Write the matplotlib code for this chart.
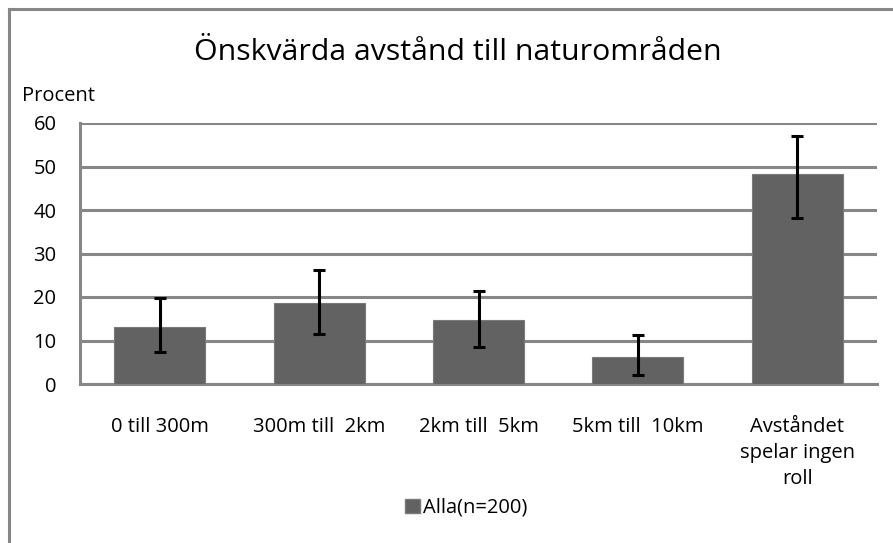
import matplotlib
matplotlib.use("Agg")
import matplotlib.pyplot as plt
from matplotlib.lines import Line2D
from matplotlib.patches import Patch
import numpy as np

categories = ["0 till 300m", "300m till  2km", "2km till  5km", "5km till  10km", "Avståndet\nspelar ingen\nroll"]
values = [13.0, 18.6, 14.7, 6.2, 48.2]
err_low = [7.3, 11.6, 8.5, 2.1, 38.2]
err_high = [19.8, 26.2, 21.4, 11.2, 57.1]
yticks = [0, 10, 20, 30, 40, 50, 60]
title = "Önskvärda avstånd till naturområden"
ylabel = "Procent"
series_name = "Alla(n=200)"

plt.rcParams['font.family'] = ['Open Sans', 'DejaVu Sans']

W, H = 893, 543
fs = 14.5
fig = plt.figure(figsize=(W / 100, H / 100), dpi=100)
ax = fig.add_axes([80 / W, 1 - 384 / H, (877 - 80) / W, (384 - 123) / H])

x = np.arange(len(categories))
vals = np.array(values)
yerr = np.array([vals - np.array(err_low), np.array(err_high) - vals])
ax.bar(x, vals, width=0.57, color="#626262", edgecolor="#7a7a7a", linewidth=0.8, zorder=3)
ax.errorbar(x, vals, yerr=yerr, fmt="none", ecolor="black", elinewidth=2.2,
            capsize=4.5, capthick=2.2, zorder=4)

ax.set_xlim(-0.5, len(categories) - 0.5)
ax.set_ylim(0, 60)
ax.set_yticks(yticks)
ax.set_yticklabels([str(t) for t in yticks], fontsize=fs)
ax.set_xticks(x)
ax.set_xticklabels(categories, fontsize=fs, linespacing=1.38, va="top")
ax.tick_params(axis="both", length=0)
ax.tick_params(axis="y", pad=17)
ax.tick_params(axis="x", pad=24)
ax.grid(axis="y", color="#878787", linewidth=2.2, zorder=0)
ax.set_axisbelow(True)
for s in ["top", "right"]:
    ax.spines[s].set_visible(False)
for s in ["left", "bottom"]:
    ax.spines[s].set_color("#878787")
    ax.spines[s].set_linewidth(2.2)

fig.text(458 / W, 1 - 52 / H, title, ha="center", va="center", fontsize=21.8)
fig.text(22 / W, 1 - 96 / H, ylabel, ha="left", va="center", fontsize=fs)

handles = [Patch(facecolor="#626262", edgecolor="#7a7a7a", label=series_name)]
fig.legend(handles=handles, loc="center", bbox_to_anchor=(466 / W, 1 - 508 / H),
           frameon=False, fontsize=fs, handlelength=0.75, handleheight=0.75,
           handletextpad=0.15)

# outer chart border (top and left visible)
fig.add_artist(Line2D([8.5 / W, 1.0], [1 - 9 / H, 1 - 9 / H], transform=fig.transFigure,
                      color="#878787", linewidth=2.2))
fig.add_artist(Line2D([8.5 / W, 8.5 / W], [0, 1 - 9 / H], transform=fig.transFigure,
                      color="#878787", linewidth=2.2))

fig.savefig("out.png", dpi=100, facecolor="white")
